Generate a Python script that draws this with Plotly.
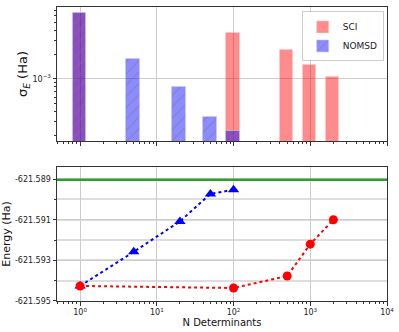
import plotly.graph_objects as go
from plotly.subplots import make_subplots
import numpy as np

# N determinants for each method
sci_n = [1, 100, 500, 1000, 2000]
nomsd_n = [1, 5, 20, 50, 100]

# statistical error (Ha)
sci_sigma = [6.45e-3, 3.73e-3, 2.26e-3, 1.48e-3, 1.05e-3]
nomsd_sigma = [6.45e-3, 1.75e-3, 7.97e-4, 3.4e-4, 2.28e-4]

# energies (Ha)
sci_energy = [-621.59426, -621.59436, -621.59377, -621.5922, -621.5910]
nomsd_energy = [-621.59426, -621.59258, -621.59108, -621.58973, -621.58952]
exact_energy = -621.58903

x_ticks = [1, 10, 100, 1000, 10000]
x_ticktext = ['10<sup>%d</sup>' % k for k in range(5)]
e_ticks = [-621.595, -621.593, -621.591, -621.589]

font = 'DejaVu Sans'

fig = make_subplots(rows=2, cols=1, vertical_spacing=0.088)

fig.add_trace(go.Bar(x=sci_n, y=sci_sigma, width=[0.4 * n for n in sci_n],
                     name='SCI', marker=dict(color='rgba(255,0,0,0.45)',
                                             line=dict(width=1, color='rgba(255,200,200,0.6)'))),
              row=1, col=1)
fig.add_trace(go.Bar(x=nomsd_n, y=nomsd_sigma, width=[0.4 * n for n in nomsd_n],
                     name='NOMSD',
                     marker=dict(color='rgba(0,0,255,0.45)',
                                 line=dict(width=1, color='rgba(200,200,255,0.6)'),
                                 pattern=dict(shape='/', fgcolor='rgba(120,120,120,0.9)',
                                              size=8, solidity=0.15, fillmode='overlay'))),
              row=1, col=1)

fig.add_trace(go.Scatter(x=nomsd_n, y=nomsd_energy, mode='lines+markers', showlegend=False,
                         line=dict(color='blue', dash='dot', width=2),
                         marker=dict(symbol='triangle-up', size=10, color='blue')),
              row=2, col=1)
fig.add_trace(go.Scatter(x=sci_n, y=sci_energy, mode='lines+markers', showlegend=False,
                         line=dict(color='red', dash='dot', width=2),
                         marker=dict(symbol='circle', size=9, color='red')),
              row=2, col=1)
fig.add_shape(type='line', xref='x2 domain', yref='y2', x0=0, x1=1,
              y0=exact_energy, y1=exact_energy, line=dict(color='#2ca02c', width=2.5))

axis_common = dict(showline=True, mirror=True, linecolor='#333', linewidth=1,
                   ticks='outside', ticklen=3.5, tickcolor='#333',
                   showgrid=True, gridcolor='#cccccc', gridwidth=1, zeroline=False,
                   tickfont=dict(family=font, size=8, color='#222'))

minor_x = [m * 10 ** k for k in range(-1, 4) for m in range(2, 10)]
for r in (1, 2):
    fig.update_xaxes(type='log', range=[np.log10(0.5), 4], tickmode='array',
                     tickvals=x_ticks, ticktext=x_ticktext,
                     showticklabels=(r == 2),
                     minor=dict(tickmode='array', tickvals=minor_x, ticks='outside',
                                ticklen=2, tickcolor='#333', showgrid=False),
                     row=r, col=1, **axis_common)

fig.update_xaxes(title=dict(text='N Determinants', font=dict(family=font, size=10, color='#111'),
                            standoff=2), row=2, col=1)

minor_y = [m * 1e-4 for m in range(2, 10)] + [m * 1e-3 for m in range(2, 10)]
fig.update_yaxes(type='log', range=[np.log10(1.72e-4), np.log10(7.7e-3)], tickmode='array',
                 tickvals=[1e-3], ticktext=['10<sup>−3</sup>'],
                 minor=dict(tickmode='array', tickvals=minor_y, ticks='outside',
                            ticklen=2, tickcolor='#333', showgrid=False),
                 title=dict(text='σ<sub><i>E</i></sub> (Ha)', font=dict(family=font, size=13, color='#111'),
                            standoff=1),
                 row=1, col=1, **axis_common)

fig.update_yaxes(range=[-621.595, -621.5884], tickmode='array', tickvals=e_ticks,
                 ticktext=['%.3f' % v for v in e_ticks],
                 minor=dict(dtick=0.001, tick0=-621.595, showgrid=True, gridcolor='#dddddd',
                            gridwidth=2, ticks='outside', ticklen=2, tickcolor='#333'),
                 title=dict(text='Energy (Ha)', font=dict(family=font, size=11, color='#111'),
                            standoff=4),
                 row=2, col=1, **axis_common)

fig.update_layout(width=399, height=332, barmode='overlay', bargap=0,
                  plot_bgcolor='white', paper_bgcolor='white',
                  margin=dict(l=57, r=12, t=7, b=31, autoexpand=False),
                  font=dict(family=font),
                  legend=dict(x=0.99, y=0.985, xanchor='right', yanchor='top',
                              bgcolor='white', bordercolor='#cccccc', borderwidth=1,
                              font=dict(family=font, size=9, color='#222'),
                              tracegroupgap=0, itemwidth=30))

fig.write_html("out.html", config={'displayModeBar': False},
               post_script="document.body.style.margin='0';")
